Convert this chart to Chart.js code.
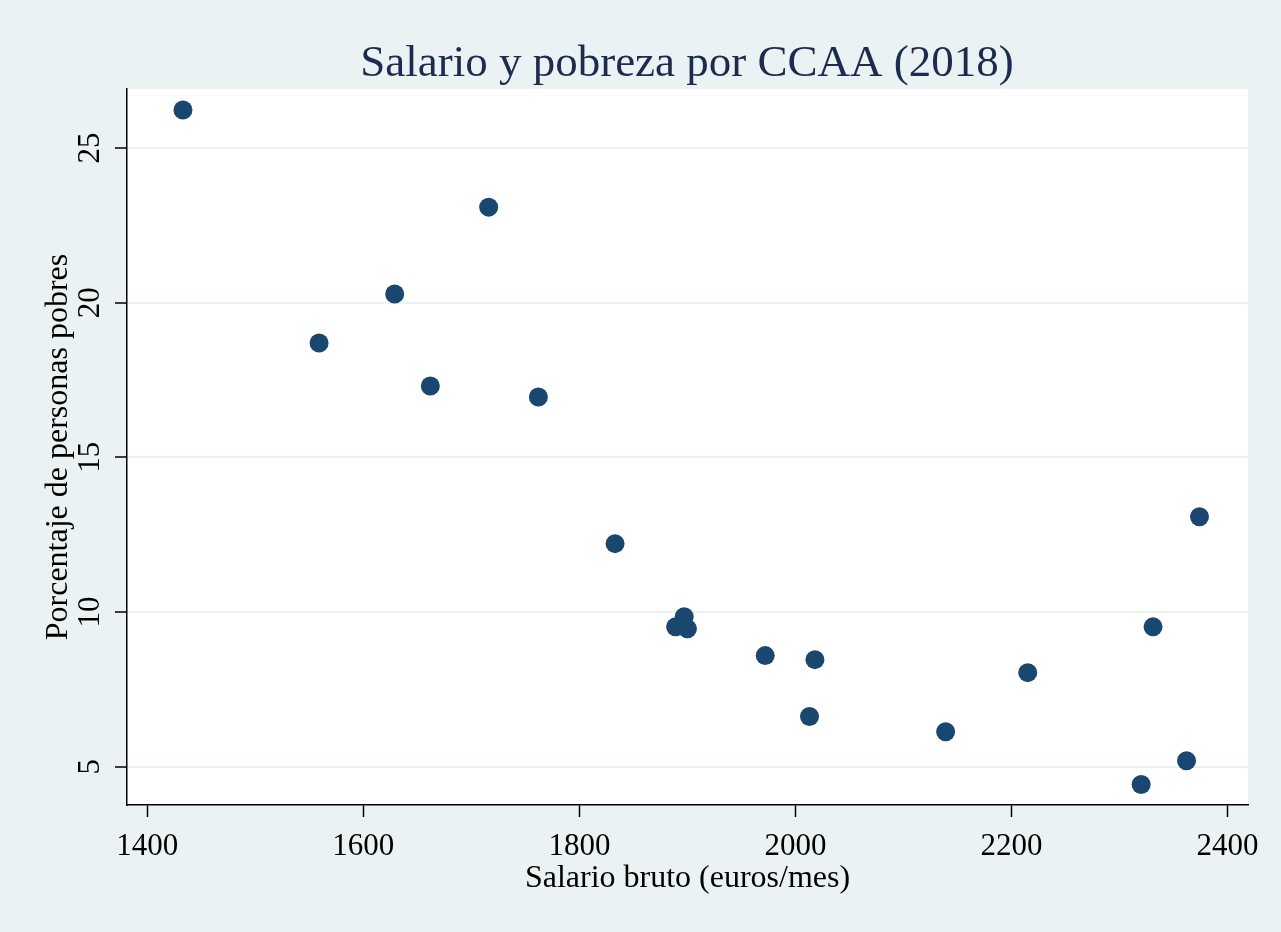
<!DOCTYPE html>
<html>
<head>
<meta charset="utf-8">
<script src="https://cdn.jsdelivr.net/npm/chart.js@4"></script>
<style>
html,body{margin:0;padding:0;background:#eaf2f3;}
#wrap{width:1281px;height:932px;position:relative;}
canvas{display:block;}
</style>
</head>
<body>
<div id="wrap"><canvas id="c" width="1281" height="932"></canvas></div>
<script>
// Data
const salario = [1433, 1716, 1629, 1559, 1662, 1762, 1833, 1897, 1889, 1900, 1972, 2018, 2013, 2139, 2215, 2331, 2374, 2362, 2320];
const pobreza = [26.23, 23.09, 20.28, 18.70, 17.31, 16.95, 12.21, 9.85, 9.52, 9.46, 8.59, 8.46, 6.62, 6.13, 8.04, 9.52, 13.08, 5.19, 4.42];
const xTicks = [1400, 1600, 1800, 2000, 2200, 2400];
const yTicks = [5, 10, 15, 20, 25];
const titleText = 'Salario y pobreza por CCAA (2018)';
const xTitle = 'Salario bruto (euros/mes)';
const yTitle = 'Porcentaje de personas pobres';

const points = salario.map((x, i) => ({x: x, y: pobreza[i]}));
const FONT = '"Liberation Serif", "Times New Roman", serif';

const bgPlugin = {
  id: 'bg',
  beforeDraw(chart) {
    const {ctx, chartArea: a} = chart;
    ctx.save();
    ctx.fillStyle = '#eaf2f3';
    ctx.fillRect(0, 0, chart.width, chart.height);
    ctx.fillStyle = '#ffffff';
    ctx.fillRect(a.left, a.top, a.right - a.left, a.bottom - a.top);
    ctx.restore();
  },
  afterDraw(chart) {
    const ctx = chart.ctx;
    ctx.save();
    ctx.font = '45px ' + FONT;
    ctx.fillStyle = '#1c2b4e';
    ctx.textAlign = 'center';
    ctx.textBaseline = 'alphabetic';
    ctx.fillText(titleText, 687, 76);
    ctx.restore();
  }
};

new Chart(document.getElementById('c'), {
  type: 'scatter',
  data: {
    datasets: [{
      data: points,
      backgroundColor: '#1a476f',
      borderWidth: 0,
      pointRadius: 9.5,
      pointHoverRadius: 9.5
    }]
  },
  options: {
    responsive: false,
    animation: false,
    devicePixelRatio: 1,
    layout: {padding: {top: 89, right: 33, bottom: 0, left: 0}},
    plugins: {legend: {display: false}, tooltip: {enabled: false}, title: {display: false}},
    scales: {
      x: {
        type: 'linear',
        position: 'bottom',
        min: 1381.2,
        max: 2418.9,
        afterBuildTicks: s => { s.ticks = xTicks.map(v => ({value: v})); },
        afterFit: s => { s.height = 127; },
        ticks: {
          font: {family: FONT, size: 31},
          color: '#000000',
          padding: 11,
          maxRotation: 0,
          minRotation: 0,
          autoSkip: false,
          callback: v => String(v)
        },
        grid: {drawOnChartArea: false, drawTicks: true, tickLength: 12, tickColor: '#000000', tickWidth: 1.5},
        border: {display: true, color: '#000000', width: 1.5},
        title: {display: true, text: xTitle, font: {family: FONT, size: 32}, color: '#000000', padding: {top: 0, bottom: 34}}
      },
      y: {
        type: 'linear',
        position: 'left',
        min: 3.76,
        max: 26.91,
        afterBuildTicks: s => { s.ticks = yTicks.map(v => ({value: v})); },
        afterFit: s => { s.width = 127; },
        ticks: {
          font: {family: FONT, size: 31},
          color: '#000000',
          padding: 9,
          minRotation: 90,
          maxRotation: 90,
          crossAlign: 'center',
          autoSkip: false,
          callback: v => String(v)
        },
        grid: {drawOnChartArea: true, color: '#eaf2f3', lineWidth: 2, drawTicks: true, tickLength: 12, tickColor: '#000000', tickWidth: 1.5},
        border: {display: true, color: '#000000', width: 1.5},
        title: {display: true, text: yTitle, font: {family: FONT, size: 32}, color: '#000000', padding: {top: 39, bottom: 0}}
      }
    }
  },
  plugins: [bgPlugin]
});
</script>
</body>
</html>
